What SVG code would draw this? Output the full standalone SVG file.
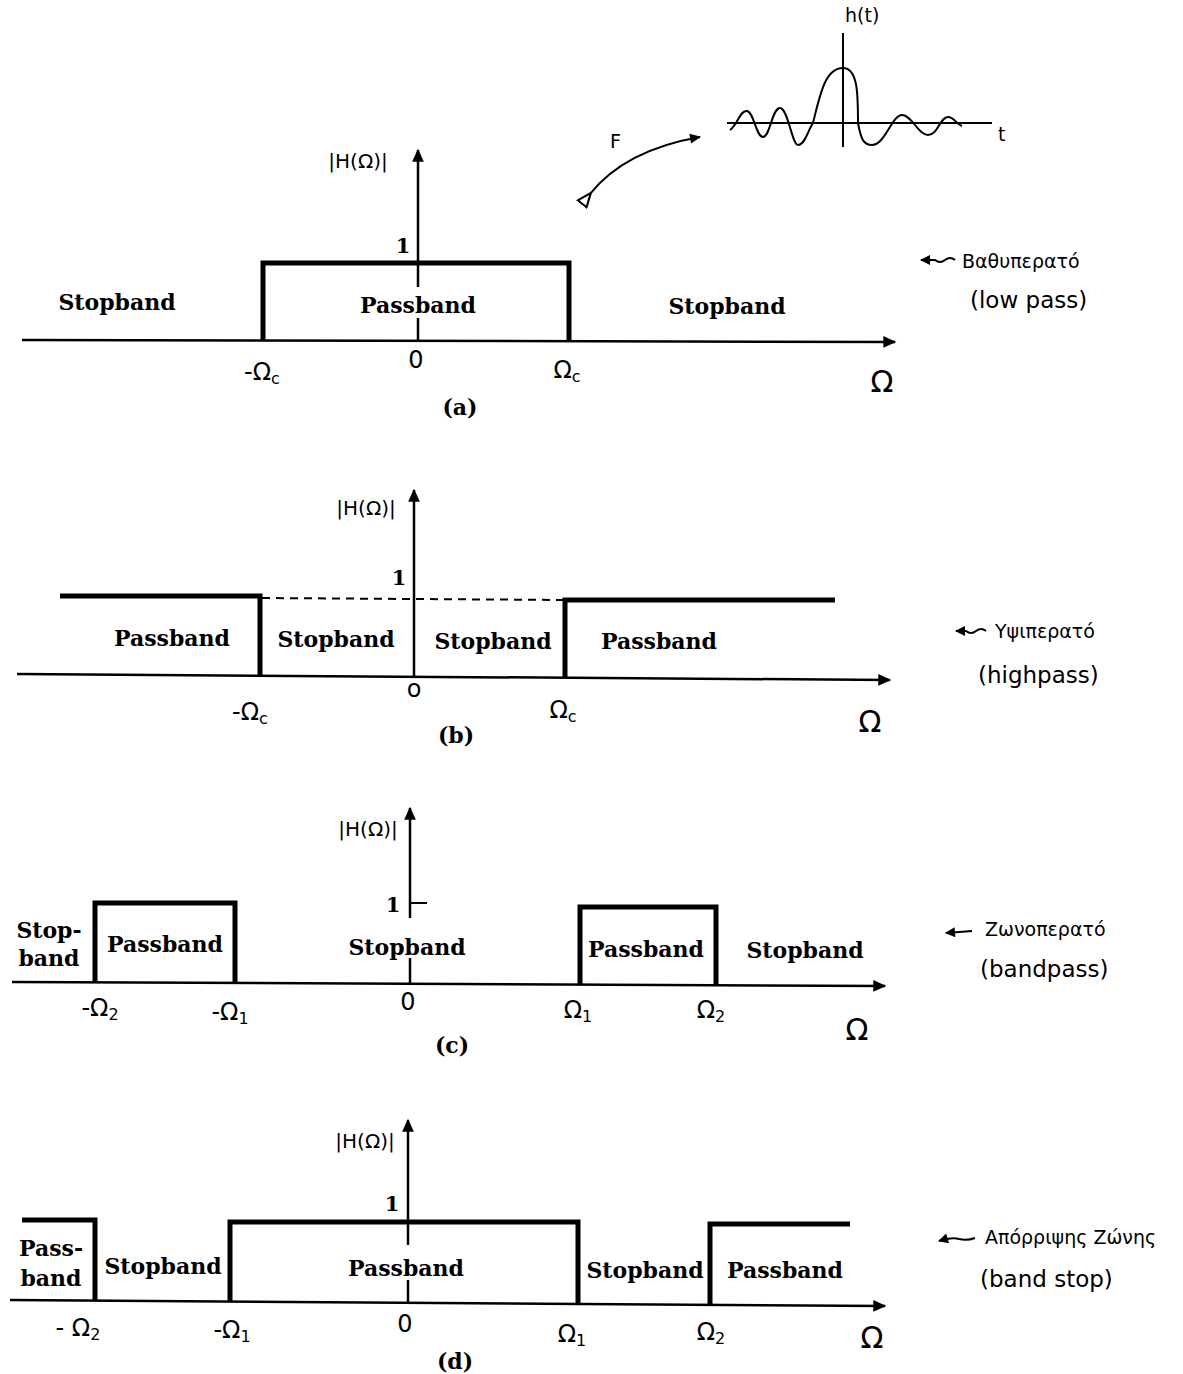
<svg xmlns="http://www.w3.org/2000/svg" width="1183" height="1374" viewBox="0 0 1183 1374">
<style>
.ax{stroke:#000;stroke-width:2.5;fill:none}
.th{stroke:#000;stroke-width:5;fill:none;stroke-linejoin:miter}
.dash{stroke:#000;stroke-width:2;fill:none;stroke-dasharray:8,6}
.thin{stroke:#000;stroke-width:2;fill:none}
.lbl{font-family:"DejaVu Serif","Liberation Serif",serif;font-weight:bold;font-size:22px;text-anchor:middle}
.tk{font-family:"DejaVu Sans","Liberation Sans",sans-serif;font-size:24px;text-anchor:middle}
.sub{font-size:16px}
.om{font-family:"DejaVu Sans","Liberation Sans",sans-serif;font-size:30px;text-anchor:middle}
.cap{font-family:"DejaVu Serif","Liberation Serif",serif;font-weight:bold;font-size:22px;text-anchor:middle}
.one{font-family:"DejaVu Serif","Liberation Serif",serif;font-weight:bold;font-size:21px;text-anchor:middle}
.mag{font-family:"DejaVu Sans","Liberation Sans",sans-serif;font-size:20px;text-anchor:middle}
.hand{font-family:"DejaVu Sans","Liberation Sans",sans-serif;font-size:19px}
.hand2{font-family:"DejaVu Sans","Liberation Sans",sans-serif;font-size:23px}
</style>
<defs>
<marker id="ahb" viewBox="0 0 10 10" refX="9" refY="5" markerWidth="20" markerHeight="13" markerUnits="userSpaceOnUse" orient="auto">
<path d="M0,0.5 L10,5 L0,9.5 z" fill="#000"/>
</marker>
<marker id="ahs" viewBox="0 0 10 10" refX="9" refY="5" markerWidth="16" markerHeight="11" markerUnits="userSpaceOnUse" orient="auto">
<path d="M0,0.5 L10,5 L0,9.5 z" fill="#000"/>
</marker>
<marker id="aho" viewBox="0 0 10 10" refX="9" refY="5" markerWidth="16" markerHeight="14" markerUnits="userSpaceOnUse" orient="auto">
<path d="M0,1 L10,5 L0,9 z" fill="#fff" stroke="#000" stroke-width="1.5"/>
</marker>
<marker id="ahn" viewBox="0 0 10 10" refX="9" refY="5" markerWidth="12" markerHeight="10" markerUnits="userSpaceOnUse" orient="auto">
<path d="M0,0 L10,5 L0,10 z" fill="#000"/>
</marker>
</defs>

<!-- ===== Panel (a) ===== -->
<g id="panel-a">
<g id="a-connectors">
<line class="ax" x1="22" y1="340" x2="895" y2="342" marker-end="url(#ahb)"/>
<line class="ax" x1="418" y1="340" x2="418" y2="318"/>
<line class="ax" x1="418" y1="287" x2="418" y2="150" marker-end="url(#ahb)"/>
<path class="th" d="M263,340 V263 H569 V342"/>
</g>
<text class="mag" x="358" y="168">|H(Ω)|</text>
<text class="one" x="403" y="253">1</text>
<text class="lbl" x="117" y="310">Stopband</text>
<text class="lbl" x="418" y="313">Passband</text>
<text class="lbl" x="727" y="314">Stopband</text>
<text class="tk" x="262" y="380">-Ω<tspan class="sub" dy="4">c</tspan></text>
<text class="tk" x="416" y="368">0</text>
<text class="tk" x="567" y="378">Ω<tspan class="sub" dy="4">c</tspan></text>
<text class="om" x="882" y="392">Ω</text>
<text class="cap" x="460" y="415">(a)</text>
</g>

<!-- h(t) sketch -->
<g id="ht-sketch">
<line class="thin" x1="727" y1="123" x2="992" y2="123"/>
<line class="thin" x1="843" y1="147" x2="843" y2="33"/>
<path class="thin" d="M730,130 C738,124 740,110 747,111 C754,112 756,137 763,137 C770,137 772,108 780,108 C788,108 792,145 798,145 C805,145 808,130 813,123 C820,95 825,68 843,68 C858,68 858,95 858,123 C861,140 864,145 872,145 C885,145 892,115 902,115 C912,115 918,135 928,135 C938,135 940,117 948,117 C954,117 956,124 962,126"/>
<text class="hand" x="845" y="22" font-size="15">h(t)</text>
<text class="hand" x="998" y="141" font-size="18">t</text>
<path class="thin" d="M590,194 Q625,150 700,137" marker-end="url(#ahs)" marker-start="url(#aho)"/>
<text class="hand" x="610" y="148" font-size="17">F</text>
</g>

<!-- annotation a -->
<g id="note-a">
<path class="thin" d="M955,260 q-5,-4 -10,0 q-5,4 -10,0 l-14,0" marker-end="url(#ahn)"/>
<text class="hand" x="962" y="268">Βαθυπερατό</text>
<text class="hand2" x="970" y="308">(low pass)</text>
</g>

<!-- ===== Panel (b) ===== -->
<g id="panel-b">
<g id="b-connectors">
<line class="ax" x1="17" y1="674" x2="890" y2="680" marker-end="url(#ahb)"/>
<line class="ax" x1="414" y1="677" x2="414" y2="490" marker-end="url(#ahb)"/>
<path class="th" d="M60,596 H260 V675"/>
<line class="dash" x1="262" y1="598" x2="565" y2="600"/>
<path class="th" d="M565,678 V600 H835"/>
</g>
<text class="mag" x="366" y="515">|H(Ω)|</text>
<text class="one" x="399" y="585">1</text>
<text class="lbl" x="172" y="646">Passband</text>
<text class="lbl" x="336" y="647">Stopband</text>
<text class="lbl" x="493" y="649">Stopband</text>
<text class="lbl" x="659" y="649">Passband</text>
<text class="tk" x="414" y="697">o</text>
<text class="tk" x="250" y="720">-Ω<tspan class="sub" dy="4">c</tspan></text>
<text class="tk" x="563" y="718">Ω<tspan class="sub" dy="4">c</tspan></text>
<text class="om" x="870" y="732">Ω</text>
<text class="cap" x="456" y="743">(b)</text>
</g>

<!-- annotation b -->
<g id="note-b">
<path class="thin" d="M986,631 q-5,-4 -10,0 q-5,4 -10,0 l-10,0" marker-end="url(#ahn)"/>
<text class="hand" x="995" y="638">Υψιπερατό</text>
<text class="hand2" x="978" y="683">(highpass)</text>
</g>

<!-- ===== Panel (c) ===== -->
<g id="panel-c">
<g id="c-connectors">
<line class="ax" x1="12" y1="982" x2="885" y2="986" marker-end="url(#ahb)"/>
<line class="ax" x1="410" y1="984" x2="410" y2="958"/>
<line class="ax" x1="410" y1="918" x2="410" y2="808" marker-end="url(#ahb)"/>
<line class="thin" x1="410" y1="903" x2="427" y2="903"/>
<path class="th" d="M95,983 V903 H235 V983"/>
<path class="th" d="M580,985 V907 H716 V986"/>
</g>
<text class="mag" x="368" y="836">|H(Ω)|</text>
<text class="one" x="393" y="912">1</text>
<text class="lbl" x="49" y="938">Stop-</text>
<text class="lbl" x="49" y="966">band</text>
<text class="lbl" x="165" y="952">Passband</text>
<text class="lbl" x="407" y="955">Stopband</text>
<text class="lbl" x="646" y="957">Passband</text>
<text class="lbl" x="805" y="958">Stopband</text>
<text class="tk" x="100" y="1016">-Ω<tspan class="sub" dy="4">2</tspan></text>
<text class="tk" x="230" y="1020">-Ω<tspan class="sub" dy="4">1</tspan></text>
<text class="tk" x="408" y="1010">0</text>
<text class="tk" x="578" y="1018">Ω<tspan class="sub" dy="4">1</tspan></text>
<text class="tk" x="711" y="1018">Ω<tspan class="sub" dy="4">2</tspan></text>
<text class="om" x="857" y="1040">Ω</text>
<text class="cap" x="452" y="1053">(c)</text>
</g>

<!-- annotation c -->
<g id="note-c">
<line class="thin" x1="972" y1="931" x2="946" y2="933" marker-end="url(#ahn)"/>
<text class="hand" x="985" y="936">Ζωνοπερατό</text>
<text class="hand2" x="980" y="977">(bandpass)</text>
</g>

<!-- ===== Panel (d) ===== -->
<g id="panel-d">
<g id="d-connectors">
<line class="ax" x1="10" y1="1300" x2="885" y2="1306" marker-end="url(#ahb)"/>
<line class="ax" x1="408" y1="1304" x2="408" y2="1280"/>
<line class="ax" x1="408" y1="1245" x2="408" y2="1120" marker-end="url(#ahb)"/>
<path class="th" d="M22,1220 H95 V1301"/>
<path class="th" d="M230,1302 V1222 H578 V1304"/>
<path class="th" d="M710,1305 V1224 H850"/>
</g>
<text class="mag" x="365" y="1148">|H(Ω)|</text>
<text class="one" x="392" y="1211">1</text>
<text class="lbl" x="51" y="1256">Pass-</text>
<text class="lbl" x="51" y="1286">band</text>
<text class="lbl" x="163" y="1274">Stopband</text>
<text class="lbl" x="406" y="1276">Passband</text>
<text class="lbl" x="645" y="1278">Stopband</text>
<text class="lbl" x="785" y="1278">Passband</text>
<text class="tk" x="78" y="1336">- Ω<tspan class="sub" dy="4">2</tspan></text>
<text class="tk" x="232" y="1338">-Ω<tspan class="sub" dy="4">1</tspan></text>
<text class="tk" x="405" y="1332">0</text>
<text class="tk" x="572" y="1342">Ω<tspan class="sub" dy="4">1</tspan></text>
<text class="tk" x="711" y="1340">Ω<tspan class="sub" dy="4">2</tspan></text>
<text class="om" x="872" y="1348">Ω</text>
<text class="cap" x="455" y="1369">(d)</text>
</g>

<!-- annotation d -->
<g id="note-d">
<path class="thin" d="M975,1238 q-8,3 -16,1 q-7,-2 -20,2" marker-end="url(#ahn)"/>
<text class="hand" x="985" y="1244">Απόρριψης Ζώνης</text>
<text class="hand2" x="980" y="1287">(band stop)</text>
</g>
</svg>
